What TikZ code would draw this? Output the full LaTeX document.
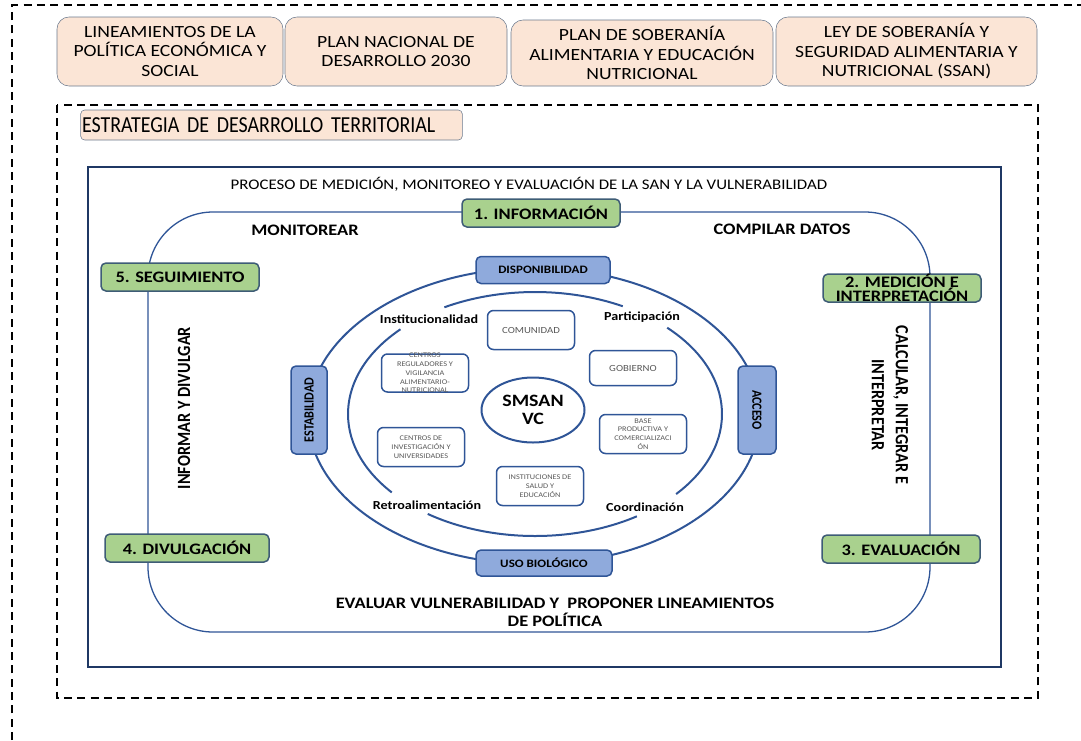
\documentclass[tikz,border=0pt]{standalone}
\usepackage{fontspec}
\setmainfont{Carlito}[FakeStretch=1.15]
\newfontfamily\rotada{Carlito}[FakeStretch=0.87]
\usetikzlibrary{shapes,positioning}

\newdimen\px \px=0.75pt

\definecolor{durazno}{HTML}{FBE5D6}
\definecolor{bordegris}{HTML}{6B7A8F}
\definecolor{verdepaso}{HTML}{A9D18E}
\definecolor{bordeverde}{HTML}{3E5C76}
\definecolor{azuldim}{HTML}{8FAADC}
\definecolor{azulborde}{HTML}{2F5597}
\definecolor{azulmarco}{HTML}{1F3864}
\definecolor{textogris}{HTML}{595959}

\tikzset{
  basic/.style     = {draw, align=center, inner sep=1pt},
  ley/.style       = {basic, fill=durazno, draw=bordegris, rounded corners=12\px,
                      minimum height=69\px, font=\fontsize{12.8}{14.6}\selectfont},
  paso/.style      = {basic, fill=verdepaso, draw=bordeverde, line width=1.5\px,
                      rounded corners=5\px, minimum width=158\px, minimum height=28\px,
                      inner ysep=0pt, font=\bfseries\fontsize{12}{10.5}\selectfont},
  dimension/.style = {basic, fill=azuldim, draw=azulborde, line width=1.5\px,
                      rounded corners=5\px, font=\bfseries\fontsize{8.5}{9}\selectfont},
  actor/.style     = {basic, fill=white, draw=azulborde, line width=1.5\px,
                      rounded corners=6\px, minimum width=87\px, minimum height=39\px,
                      text=textogris, font=\fontsize{5.4}{6.6}\selectfont},
  enlace/.style    = {font=\bfseries\fontsize{9.2}{10}\selectfont},
  accion/.style    = {align=center, font=\bfseries\fontsize{12}{13.5}\selectfont},
  vertical/.style  = {align=center, font=\rotada\bfseries\fontsize{14}{18}\selectfont},
  arco/.style      = {draw=azulborde, line width=2\px},
  marco/.style     = {line width=1.5\px, dash pattern=on 6pt off 4pt}
}

\begin{document}
\begin{tikzpicture}[x=1\px, y=1\px]
\useasboundingbox (0,0) rectangle (1081,-740);

% marcos punteados
\draw[marco] (12,-740) |- (1081,-5);
\draw[marco] (57,-105) rectangle (1038,-698);
\draw[azulmarco, line width=2\px] (88,-167) rectangle (1001,-667);

% leyes y planes
\node[ley, minimum width=226\px] (ley1) at (170,-51.5) {LINEAMIENTOS DE LA\\POLÍTICA ECONÓMICA Y\\SOCIAL};
\node[ley, minimum width=222\px] (ley2) at (396,-51.5) {PLAN NACIONAL DE\\DESARROLLO 2030};
\node[ley, minimum width=262\px, minimum height=66\px] (ley3) at (642,-53) {PLAN DE SOBERANÍA\\ALIMENTARIA Y EDUCACIÓN\\NUTRICIONAL};
\node[ley, minimum width=261\px] (ley4) at (906.5,-51.5) {LEY DE SOBERANÍA Y\\SEGURIDAD ALIMENTARIA Y\\NUTRICIONAL (SSAN)};

\node[ley, rounded corners=4\px, minimum height=30\px, text width=379\px, align=left,
      font=\rotada\fontsize{17.2}{18}\selectfont] (edt) at (271.5,-125) {ESTRATEGIA DE DESARROLLO TERRITORIAL};

\node[font=\fontsize{11}{12}\selectfont] (titulo) at (529,-184) {PROCESO DE MEDICIÓN, MONITOREO Y EVALUACIÓN DE LA SAN Y LA VULNERABILIDAD};

% ciclo
\coordinate (lazoNO) at (148,-212);
\coordinate (lazoSE) at (930,-632);
\draw[azulborde, line width=1.3\px, rounded corners=65\px] (lazoNO) rectangle (lazoSE);

% anillos
\node[ellipse, draw=azulborde, line width=2\px, inner sep=0pt,
      minimum width=452\px, minimum height=296\px] (anillo) at (534,-416) {};
\coordinate (centro) at (535,-414);
\foreach \a/\b in {62/119, 136/220, 235/303, -41/45}
  \draw[arco] ([shift={(\a:187 and 122)}]centro) arc[start angle=\a, end angle=\b, x radius=187, y radius=122];

% pasos
\node[paso] (info) at (541,-213) {1. INFORMACIÓN};
\node[paso] (medicion) at (902,-288) {2. MEDICIÓN E\\INTERPRETACIÓN};
\node[paso] (evaluacion) at (901,-549) {3. EVALUACIÓN};
\node[paso, minimum width=164\px] (divulgacion) at (187,-548) {4. DIVULGACIÓN};
\node[paso] (seguimiento) at (180,-277) {5. SEGUIMIENTO};

\node[accion] (monitorear) at (305,-230) {MONITOREAR};
\node[accion] (compilar) at (782,-229) {COMPILAR DATOS};
\node[vertical, rotate=90] (informar) at (184,-408) {INFORMAR Y DIVULGAR};
\node[vertical, rotate=-90] (calcular) at (890,-405) {CALCULAR, INTEGRAR E\\INTERPRETAR};
\node[accion] (evaluar) at (555,-612) {EVALUAR VULNERABILIDAD Y\ \ PROPONER LINEAMIENTOS\\DE POLÍTICA};

% dimensiones
\node[dimension, minimum width=134\px, minimum height=27\px] (disp) at (543,-270) {DISPONIBILIDAD};
\node[dimension, minimum width=136\px, minimum height=26\px] (uso) at (544,-563) {USO BIOLÓGICO};
\node[dimension, rotate=90, minimum width=88\px, minimum height=36\px,
      font=\rotada\bfseries\fontsize{10.5}{11}\selectfont] (estab) at (309,-410) {ESTABILIDAD};
\node[dimension, rotate=-90, minimum width=88\px, minimum height=38\px,
      font=\rotada\bfseries\fontsize{10.5}{11}\selectfont] (acceso) at (757,-410) {ACCESO};

\node[enlace] (instit) at (429,-319) {Institucionalidad};
\node[enlace] (partic) at (642,-317) {Participación};
\node[enlace] (retro) at (427,-505) {Retroalimentación};
\node[enlace] (coord) at (645,-507) {Coordinación};

% actores
\node[actor, font=\fontsize{7}{8}\selectfont] (comunidad) at (531,-330) {COMUNIDAD};
\node[actor, minimum height=35\px, font=\fontsize{7}{8}\selectfont] (gobierno) at (633,-368) {GOBIERNO};
\node[actor, minimum height=38\px, inner ysep=-3\px] (centros) at (425,-373) {CENTROS\\REGULADORES Y\\VIGILANCIA\\ALIMENTARIO-\\NUTRICIONAL};
\node[actor] (investigacion) at (421,-447) {CENTROS DE\\INVESTIGACIÓN Y\\UNIVERSIDADES};
\node[actor] (base) at (643,-434) {BASE\\PRODUCTIVA Y\\COMERCIALIZACI\\ÓN};
\node[actor] (salud) at (540,-486) {INSTITUCIONES DE\\SALUD Y\\EDUCACIÓN};

\node[ellipse, draw=azulborde, line width=2\px, inner sep=0pt, align=center,
      minimum width=103\px, minimum height=65\px,
      font=\bfseries\fontsize{13}{14}\selectfont] (smsan) at (533,-410) {SMSAN\\VC};

\end{tikzpicture}
\end{document}
